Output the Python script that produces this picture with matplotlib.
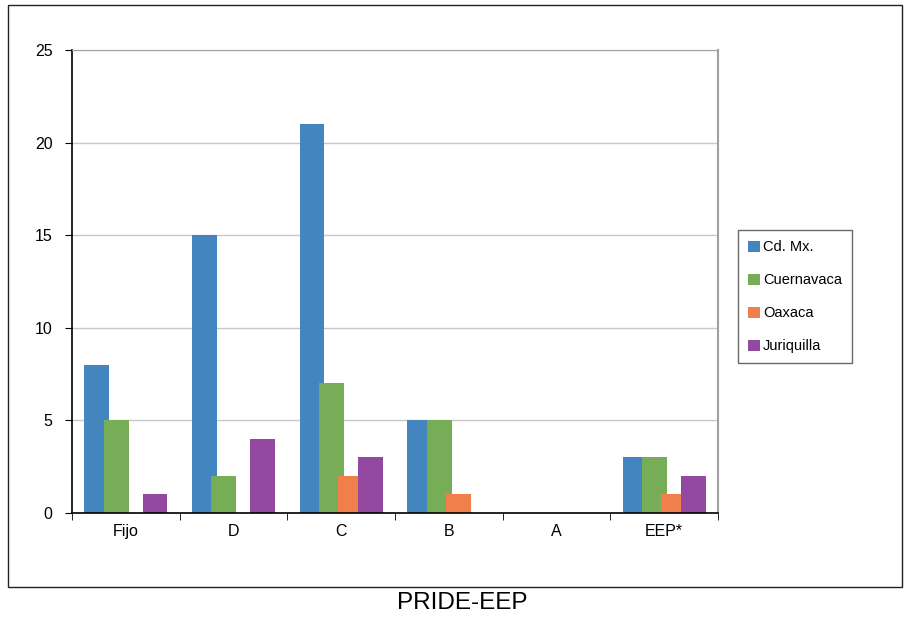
import numpy as np
import matplotlib.pyplot as plt
from matplotlib.patches import Rectangle

plt.rcParams['font.family'] = ['Liberation Sans', 'DejaVu Sans']

categorias = ['Fijo', 'D', 'C', 'B', 'A', 'EEP*']
series = ['Cd. Mx.', 'Cuernavaca', 'Oaxaca', 'Juriquilla']
cdmx = [8, 15, 21, 5, 0, 3]
cuernavaca = [5, 2, 7, 5, 0, 3]
oaxaca = [0, 0, 2, 1, 0, 1]
juriquilla = [1, 4, 3, 0, 0, 2]
colores = ['#4386BF', '#77AD57', '#F17F4C', '#9449A0']

fig = plt.figure(figsize=(9.06, 6.17), dpi=100)
fig.patches.append(Rectangle((0.009, 0.049), 0.987, 0.943, transform=fig.transFigure,
                             fill=False, edgecolor='#222222', linewidth=1.0))
ax = fig.add_axes([0.0795, 0.1686, 0.713, 0.7504])

x = np.arange(len(categorias))
paso = 0.18
ancho = 0.23
for i, (vals, nombre) in enumerate(zip([cdmx, cuernavaca, oaxaca, juriquilla], series)):
    ax.bar(x + (i - 1.5) * paso, vals, width=ancho, color=colores[i], label=nombre, zorder=3 + i)

ax.set_xlim(-0.5, len(categorias) - 0.5)
ax.set_ylim(0, 25)
ax.set_yticks([0, 5, 10, 15, 20, 25])
ax.set_xticks(x)
ax.set_xticklabels(categorias, fontsize=11.5)
ax.set_xticks(np.arange(-0.5, len(categorias)), minor=True)
ax.tick_params(axis='x', which='major', length=0, pad=8)
ax.tick_params(axis='x', which='minor', length=5, direction='out')
ax.tick_params(axis='y', length=5, direction='out', labelsize=11.5, pad=9)
ax.grid(axis='y', color='#C8C8C8', linewidth=1, zorder=0)
ax.spines['left'].set_color('black')
ax.spines['bottom'].set_color('black')
ax.spines['left'].set_linewidth(1.2)
ax.spines['bottom'].set_linewidth(1.2)
ax.spines['top'].set_color('#A0A0A0')
ax.spines['right'].set_color('#A0A0A0')
ax.spines['right'].set_linewidth(1.5)
ax.spines['bottom'].set_zorder(10)

leg = ax.legend(loc='upper left', bbox_to_anchor=(1.031, 0.611), fontsize=10.5, frameon=True,
                fancybox=False, edgecolor='#444444', handlelength=0.8, handleheight=0.8,
                handletextpad=0.2, labelspacing=1.3, borderpad=0.7, borderaxespad=0)
leg.get_frame().set_linewidth(1.0)

fig.text(0.51, 0.022, 'PRIDE-EEP', ha='center', va='center', fontsize=17.5)

fig.savefig('out.png', dpi=100)
